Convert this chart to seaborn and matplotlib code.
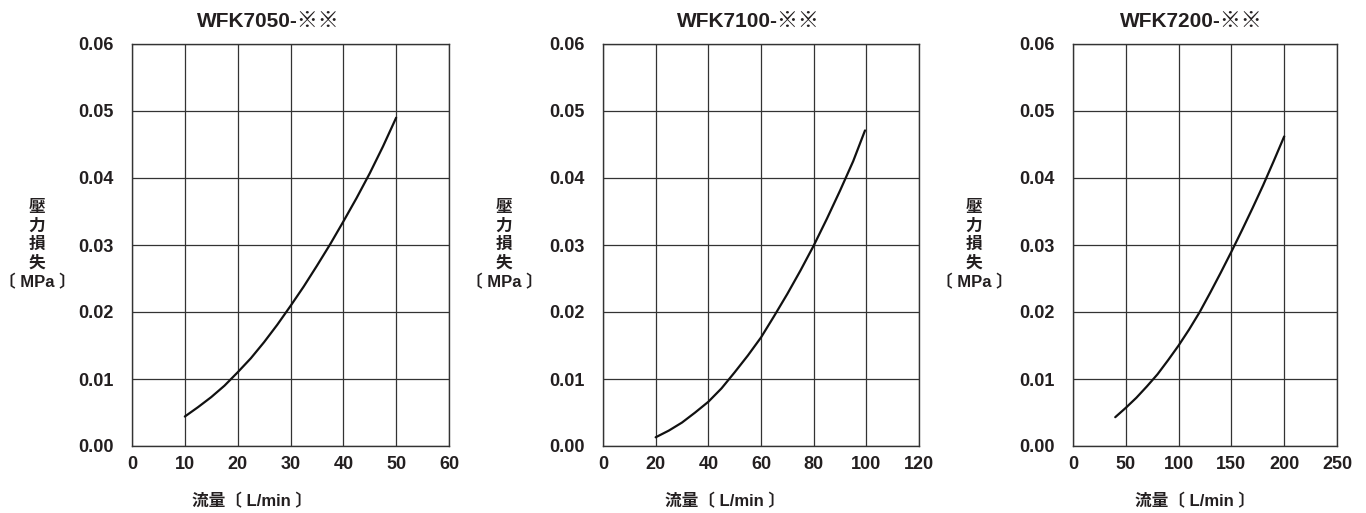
import matplotlib
matplotlib.use("Agg")
import matplotlib.pyplot as plt
import seaborn as sns
import pandas as pd

# values
titles = ["WFK7050-※※", "WFK7100-※※", "WFK7200-※※"]

flow_7050 = [10, 12.5, 15, 17.5, 20, 22.5, 25, 27.5, 30, 32.5, 35, 37.5, 40, 42.5, 45, 47.5, 50]
loss_7050 = [0.0044, 0.0058, 0.0073, 0.0090, 0.0110, 0.0131, 0.0155, 0.0181, 0.0209,
             0.0238, 0.0269, 0.0301, 0.0335, 0.0370, 0.0407, 0.0447, 0.0490]

flow_7100 = [20, 25, 30, 35, 40, 45, 50, 55, 60, 65, 70, 75, 80, 85, 90, 95, 99.5]
loss_7100 = [0.0013, 0.0023, 0.0035, 0.0050, 0.0066, 0.0086, 0.0110, 0.0135, 0.0162,
             0.0194, 0.0227, 0.0262, 0.0299, 0.0339, 0.0381, 0.0425, 0.0471]

flow_7200 = [40, 50, 60, 70, 80, 90, 100, 110, 120, 130, 140, 150, 160, 170, 180, 190, 200]
loss_7200 = [0.0043, 0.0057, 0.0072, 0.0089, 0.0107, 0.0128, 0.0150, 0.0174, 0.0200,
             0.0229, 0.0259, 0.0290, 0.0322, 0.0355, 0.0389, 0.0425, 0.0462]

x_ticks = [[0, 10, 20, 30, 40, 50, 60],
           [0, 20, 40, 60, 80, 100, 120],
           [0, 50, 100, 150, 200, 250]]
y_ticks = [0.00, 0.01, 0.02, 0.03, 0.04, 0.05, 0.06]

sns.set_style("white")
plt.rcParams['font.family'] = ['Liberation Sans', 'Noto Sans CJK JP', 'DejaVu Sans']
plt.rcParams['font.weight'] = 'bold'
txt = '#231f20'

W, H = 1366, 513
fig = plt.figure(figsize=(W / 100, H / 100), dpi=100)

# axes boxes in pixels: left, right
boxes = [(132, 449), (603, 919), (1073, 1337)]
ylab_x = [37, 504, 974]
title_x = [268, 748, 1191]
xlab_x = [252, 725, 1195]
top, bottom = 44, 446

series = [(flow_7050, loss_7050), (flow_7100, loss_7100), (flow_7200, loss_7200)]

for i, (l, r) in enumerate(boxes):
    ax = fig.add_axes([l / W, (H - bottom) / H, (r - l) / W, (bottom - top) / H])
    df = pd.DataFrame({'flow': series[i][0], 'loss': series[i][1]})
    sns.lineplot(data=df, x='flow', y='loss', ax=ax, color='#111111', linewidth=1.6)
    ax.set_xlim(x_ticks[i][0], x_ticks[i][-1])
    ax.set_ylim(0, 0.06)
    ax.set_xticks(x_ticks[i])
    ax.set_yticks(y_ticks)
    ax.set_yticklabels([f"{v:.2f}" for v in y_ticks])
    ax.grid(True, color='#333333', linewidth=0.9)
    for s in ax.spines.values():
        s.set_color('#333333')
        s.set_linewidth(1.0)
    ax.tick_params(length=0, labelsize=13, colors=txt)
    ax.tick_params(axis='y', pad=13)
    ax.tick_params(axis='x', pad=7)
    for lab in ax.get_xticklabels() + ax.get_yticklabels():
        lab.set_fontweight('bold')
    ax.set_xlabel("")
    ax.set_ylabel("")
    fig.text(title_x[i] / W, 1 - 21 / H, titles[i], ha='center', va='center',
             fontsize=15, fontweight='bold', color=txt)
    fig.text(xlab_x[i] / W, 1 - 501 / H, "流量〔 L/min 〕", ha='center', va='center',
             fontsize=12, fontweight='bold', color=txt)
    fig.text(ylab_x[i] / W, 1 - 245 / H, "壓\n力\n損\n失\n〔 MPa 〕", ha='center', va='center',
             fontsize=12, fontweight='bold', color=txt, linespacing=1.27)

fig.savefig("out.png", dpi=100)
